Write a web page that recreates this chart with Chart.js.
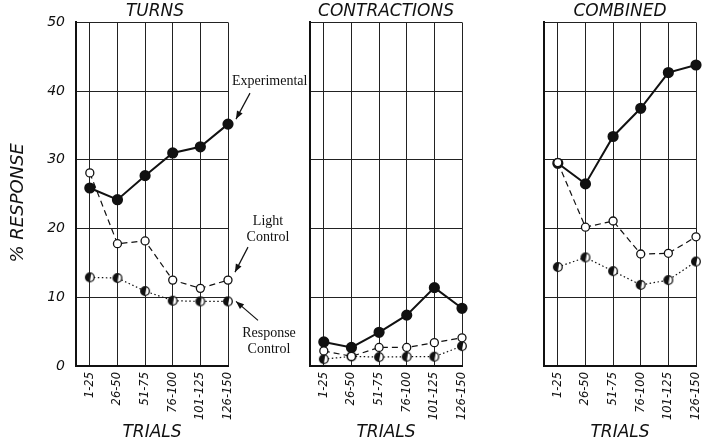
<!DOCTYPE html>
<html>
<head>
<meta charset="utf-8">
<script src="https://cdn.jsdelivr.net/npm/chart.js@4/dist/chart.umd.min.js"></script>
<style>
  html, body { margin: 0; padding: 0; background: #fff; overflow: hidden; }
  #wrap { position: relative; width: 703px; height: 444px; }
  .panel { position: absolute; top: 0; height: 444px; }
</style>
</head>
<body>
<div id="wrap">
  <div class="panel" style="left:0;width:310px"><canvas id="turns"></canvas></div>
  <div class="panel" style="left:300px;width:172px"><canvas id="contractions"></canvas></div>
  <div class="panel" style="left:534px;width:172px"><canvas id="combined"></canvas></div>
</div>
<script>
// --- данные ---
const trials = ['1-25', '26-50', '51-75', '76-100', '101-125', '126-150'];

const turnsExperimental = [25.9, 24.2, 27.7, 31.0, 31.9, 35.2];
const turnsLight        = [28.1, 17.8, 18.2, 12.5, 11.3, 12.5];
const turnsResponse     = [12.9, 12.8, 10.9, 9.5, 9.4, 9.4];

const contrExperimental = [3.5, 2.7, 4.9, 7.4, 11.4, 8.4];
const contrLight        = [2.2, 1.4, 2.7, 2.7, 3.4, 4.1];
const contrResponse     = [1.0, 1.4, 1.3, 1.35, 1.35, 2.9];

const combExperimental  = [29.5, 26.5, 33.4, 37.5, 42.7, 43.8];
const combLight         = [29.6, 20.2, 21.1, 16.3, 16.4, 18.8];
const combResponse      = [14.4, 15.8, 13.8, 11.8, 12.5, 15.2];

const yMin = 0, yMax = 50, yStep = 10;

const INK = '#111';
const LETTER = '"DejaVu Sans", sans-serif';

// маркер "полузакрашенный кружок"
function halfDot(r) {
    const c = document.createElement('canvas');
    const s = Math.ceil(r * 2 + 3);
    c.width = s; c.height = s;
    const g = c.getContext('2d');
    const m = s / 2;
    g.beginPath(); g.arc(m, m, r, 0, Math.PI * 2); g.fillStyle = '#fff'; g.fill();
    g.beginPath(); g.arc(m, m, r, Math.PI * 0.5, Math.PI * 1.6); g.closePath(); g.fillStyle = INK; g.fill();
    g.beginPath(); g.arc(m, m, r, 0, Math.PI * 2); g.lineWidth = 1.3; g.strokeStyle = INK; g.stroke();
    return c;
}
const halfMarker = halfDot(4.3);

function pts(values) {
    return values.map((v, i) => ({ x: i, y: v }));
}

function arrow(ctx, x1, y1, x2, y2) {
    ctx.beginPath();
    ctx.moveTo(x1, y1);
    ctx.lineTo(x2, y2);
    ctx.lineWidth = 1.2;
    ctx.strokeStyle = INK;
    ctx.stroke();
    const a = Math.atan2(y2 - y1, x2 - x1);
    const len = 8, w = 3.2;
    ctx.beginPath();
    ctx.moveTo(x2, y2);
    ctx.lineTo(x2 - len * Math.cos(a) + w * Math.sin(a), y2 - len * Math.sin(a) - w * Math.cos(a));
    ctx.lineTo(x2 - len * Math.cos(a) - w * Math.sin(a), y2 - len * Math.sin(a) + w * Math.cos(a));
    ctx.closePath();
    ctx.fillStyle = INK;
    ctx.fill();
}

// подписи со стрелками на первой панели
const labelsPlugin = {
    id: 'seriesLabels',
    afterDraw(chart) {
        const ctx = chart.ctx;
        const xs = chart.scales.x, ys = chart.scales.y;
        const px = xs.getPixelForValue(trials.length - 1);
        ctx.save();
        ctx.font = '14px "Liberation Serif", "Times New Roman", serif';
        ctx.fillStyle = INK;
        ctx.textBaseline = 'middle';

        // Experimental
        let tx = px + 8, ty = ys.getPixelForValue(turnsExperimental[5]) - 5;
        arrow(ctx, tx + 14, ty - 26, tx, ty);
        ctx.textAlign = 'left';
        ctx.fillText('Experimental', px + 4, ty - 38);

        // Light Control
        tx = px + 7; ty = ys.getPixelForValue(turnsLight[5]) - 8;
        arrow(ctx, tx + 13, ty - 25, tx, ty);
        ctx.textAlign = 'center';
        ctx.fillText('Light', px + 40, ty - 51);
        ctx.fillText('Control', px + 40, ty - 35);

        // Response Control
        tx = px + 8; ty = ys.getPixelForValue(turnsResponse[5]);
        arrow(ctx, tx + 22, ty + 19, tx, ty);
        ctx.fillText('Response', px + 41, ty + 32);
        ctx.fillText('Control', px + 41, ty + 48);
        ctx.restore();
    }
};

function makePanel(id, title, exp, light, resp, first) {
    const ctx = document.getElementById(id);
    const scales = {
        x: {
            type: 'linear',
            min: -0.5,
            max: trials.length - 1,
            afterBuildTicks: s => { s.ticks = trials.map((_, i) => ({ value: i })); },
            afterFit: s => { s.height = 78; s.paddingLeft = 0; s.paddingRight = 0; },
            ticks: {
                color: INK,
                minRotation: 90,
                maxRotation: 90,
                padding: 6,
                autoSkip: false,
                font: { family: LETTER, size: 11.5, style: 'italic' },
                callback: v => trials[v]
            },
            grid: { color: '#222', lineWidth: 1, drawTicks: false },
            border: { color: INK, width: 2 },
            title: {
                display: true,
                text: 'TRIALS',
                color: INK,
                font: { family: LETTER, size: 17, style: 'italic', lineHeight: 1.2 },
                padding: { top: 0, bottom: 1 }
            }
        },
        y: {
            min: yMin,
            max: yMax,
            afterFit: s => { s.width = first ? 76 : 10; s.paddingTop = 0; s.paddingBottom = 0; },
            ticks: {
                display: first,
                stepSize: yStep,
                color: INK,
                padding: 11,
                font: { family: LETTER, size: 14, style: 'italic' }
            },
            grid: { color: '#222', lineWidth: 1, drawTicks: false },
            border: { color: INK, width: 2 },
            title: {
                display: first,
                text: '% RESPONSE   ',
                color: INK,
                font: { family: LETTER, size: 18, style: 'italic', lineHeight: 1.2 },
                padding: { top: 8, bottom: 0 }
            }
        },
        // пустая правая ось только резервирует место (подписи серий, центр заголовка)
        yRight: {
            position: 'right',
            min: yMin,
            max: yMax,
            afterFit: s => { s.width = first ? 82 : 10; s.paddingTop = 0; s.paddingBottom = 0; },
            ticks: { display: false },
            grid: { display: false, drawTicks: false },
            border: { display: false }
        }
    };

    return new Chart(ctx, {
        type: 'line',
        data: {
            datasets: [
                {
                    label: 'Light Control',
                    data: pts(light),
                    order: 0,
                    borderColor: INK,
                    borderWidth: 1.2,
                    borderDash: [6, 4],
                    pointRadius: 4,
                    pointBackgroundColor: '#fff',
                    pointBorderColor: INK,
                    pointBorderWidth: 1.3,
                    clip: false
                },
                {
                    label: 'Experimental',
                    data: pts(exp),
                    order: 1,
                    borderColor: INK,
                    borderWidth: 2,
                    pointRadius: 4.6,
                    pointBackgroundColor: INK,
                    pointBorderColor: INK,
                    clip: false
                },
                {
                    label: 'Response Control',
                    data: pts(resp),
                    order: 2,
                    borderColor: INK,
                    borderWidth: 1.2,
                    borderDash: [1.5, 2.5],
                    pointStyle: halfMarker,
                    clip: false
                }
            ]
        },
        options: {
            responsive: true,
            maintainAspectRatio: false,
            animation: false,
            layout: { padding: 0 },
            plugins: {
                legend: { display: false },
                tooltip: { enabled: false },
                title: {
                    display: true,
                    text: title,
                    color: INK,
                    font: { family: LETTER, size: 17, style: 'italic', weight: 'normal', lineHeight: 1.2 },
                    padding: { top: 1, bottom: 1 }
                }
            },
            scales: scales
        },
        plugins: first ? [labelsPlugin] : []
    });
}

document.addEventListener('DOMContentLoaded', () => {
    makePanel('turns', 'TURNS', turnsExperimental, turnsLight, turnsResponse, true);
    makePanel('contractions', 'CONTRACTIONS', contrExperimental, contrLight, contrResponse, false);
    makePanel('combined', 'COMBINED', combExperimental, combLight, combResponse, false);
});
</script>
</body>
</html>
